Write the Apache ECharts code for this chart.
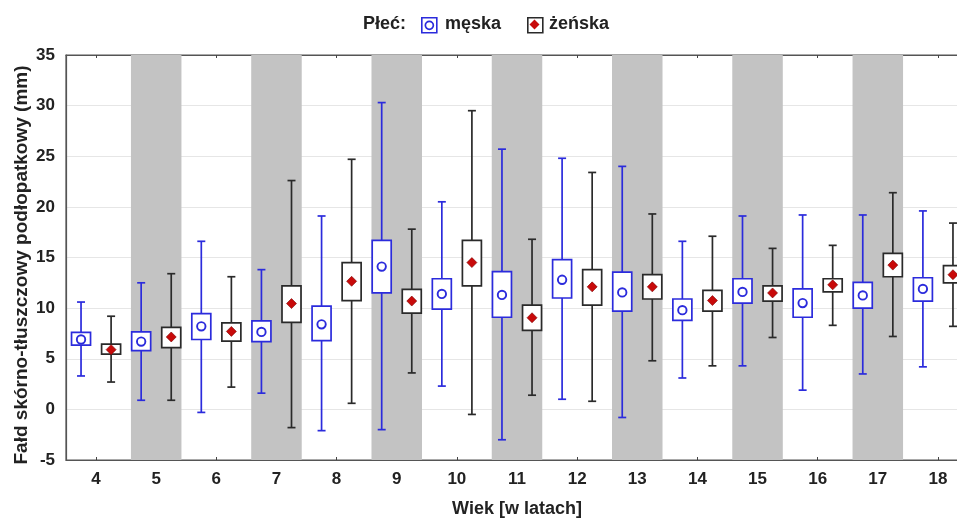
<!DOCTYPE html>
<html>
<head>
<meta charset="utf-8">
<script src="https://cdn.jsdelivr.net/npm/echarts@6/dist/echarts.min.js"></script>
<style>
html,body{margin:0;padding:0;background:#fff;}
#chart{width:957px;height:519px;}
</style>
</head>
<body>
<div id="chart"></div>
<script>
// Age categories (years)
const ages = [4, 5, 6, 7, 8, 9, 10, 11, 12, 13, 14, 15, 16, 17, 18];
const yTicks = [-5, 0, 5, 10, 15, 20, 25, 30, 35];

// Male (męska): whisker low, box low, mean, box high, whisker high
const maleWhiskerLow  = [3.3, 0.9, -0.3, 1.6, -2.1, -2.0, 2.3, -3.0, 1.0, -0.8, 3.1, 4.3, 1.9, 3.5, 4.2];
const maleBoxLow      = [6.35, 5.8, 6.9, 6.7, 6.8, 11.5, 9.9, 9.1, 11.0, 9.7, 8.8, 10.5, 9.1, 10.0, 10.7];
const maleMean        = [6.9, 6.7, 8.2, 7.65, 8.4, 14.1, 11.4, 11.3, 12.8, 11.55, 9.8, 11.6, 10.5, 11.25, 11.9];
const maleBoxHigh     = [7.6, 7.65, 9.45, 8.75, 10.2, 16.7, 12.9, 13.6, 14.8, 13.55, 10.9, 12.9, 11.9, 12.55, 13.0];
const maleWhiskerHigh = [10.6, 12.5, 16.6, 13.8, 19.1, 30.3, 20.5, 25.7, 24.8, 24.0, 16.6, 19.1, 19.2, 19.2, 19.6];

// Female (żeńska)
const femWhiskerLow  = [2.7, 0.9, 2.2, -1.8, 0.6, 3.6, -0.5, 1.4, 0.8, 4.8, 4.3, 7.1, 8.3, 7.2, 8.2];
const femBoxLow      = [5.45, 6.1, 6.75, 8.6, 10.75, 9.5, 12.2, 7.8, 10.3, 10.9, 9.7, 10.7, 11.6, 13.1, 12.5];
const femMean        = [5.9, 7.15, 7.7, 10.45, 12.65, 10.7, 14.5, 9.05, 12.1, 12.1, 10.75, 11.5, 12.3, 14.25, 13.3];
const femBoxHigh     = [6.45, 8.1, 8.55, 12.2, 14.5, 11.85, 16.7, 10.3, 13.8, 13.3, 11.75, 12.2, 12.9, 15.4, 14.2];
const femWhiskerHigh = [9.2, 13.4, 13.1, 22.6, 24.7, 17.8, 29.5, 16.8, 23.4, 19.3, 17.1, 15.9, 16.2, 21.4, 18.4];

const FONT = 'Liberation Sans, Arial, Helvetica, sans-serif';
const BLUE = '#2b2bdc';
const DARK = '#2a2a2a';
const RED = '#c80a0a';
const BAND = '#c3c3c3';

function rows(lo, bl, m, bh, hi) {
  return ages.map((a, i) => [a, lo[i], bl[i], m[i], bh[i], hi[i]]);
}

function makeRender(offset, color, marker) {
  return function (params, api) {
    const x = api.value(0) + offset;
    const px = api.coord([x, 0])[0];
    const Y = v => api.coord([x, v])[1];
    const wlo = Y(api.value(1)), blo = Y(api.value(2)), m = Y(api.value(3)),
          bhi = Y(api.value(4)), whi = Y(api.value(5));
    const halfW = 9.5, capW = 4;
    const lineStyle = { stroke: color, lineWidth: 1.7, fill: null };
    const children = [
      { type: 'line', shape: { x1: px, y1: whi, x2: px, y2: wlo }, style: lineStyle },
      { type: 'line', shape: { x1: px - capW, y1: whi, x2: px + capW, y2: whi }, style: lineStyle },
      { type: 'line', shape: { x1: px - capW, y1: wlo, x2: px + capW, y2: wlo }, style: lineStyle },
      { type: 'rect', shape: { x: px - halfW, y: bhi, width: halfW * 2, height: blo - bhi },
        style: { stroke: color, lineWidth: 1.7, fill: '#fff' } }
    ];
    if (marker === 'circle') {
      children.push({ type: 'circle', shape: { cx: px, cy: m, r: 4.2 },
        style: { stroke: color, lineWidth: 1.9, fill: '#fff' } });
    } else {
      const r = 5;
      children.push({ type: 'polygon', shape: { points: [[px, m - r], [px + r, m], [px, m + r], [px - r, m]] },
        style: { fill: RED, stroke: '#7a0000', lineWidth: 0.6 } });
    }
    return { type: 'group', children: children };
  };
}

const bands = ages.filter(a => a % 2 === 1).map(a => [{ xAxis: a - 0.42 }, { xAxis: a + 0.42 }]);

const chart = echarts.init(document.getElementById('chart'));
chart.setOption({
  animation: false,
  backgroundColor: '#fff',
  grid: { left: 66, right: -11, top: 55, bottom: 59, containLabel: false, outerBoundsMode: 'none',
          show: true, borderColor: '#555', borderWidth: 1.2, backgroundColor: 'transparent' },
  xAxis: [{
    type: 'value', min: 3.5, max: 18.5, position: 'bottom',
    name: 'Wiek [w latach]', nameLocation: 'middle', nameGap: 40,
    nameTextStyle: { fontFamily: FONT, fontWeight: 'bold', fontSize: 18, color: '#222' },
    axisLine: { show: true, onZero: false, lineStyle: { color: '#555', width: 1.2 } },
    axisTick: { show: true, inside: true, length: 3, customValues: ages, lineStyle: { color: '#444' } },
    axisLabel: { customValues: ages, margin: 11, fontFamily: FONT, fontWeight: 'bold', fontSize: 17, color: '#222' },
    splitLine: { show: false }
  }, {
    type: 'value', min: 3.5, max: 18.5, position: 'top',
    axisLine: { show: true, onZero: false, lineStyle: { color: '#555', width: 1.2 } },
    axisTick: { show: true, inside: true, length: 3, customValues: ages, lineStyle: { color: '#444' } },
    axisLabel: { show: false },
    splitLine: { show: false }
  }],
  yAxis: {
    type: 'value', min: -5, max: 35, interval: 5,
    name: 'Fałd skórno-tłuszczowy podłopatkowy (mm)', nameLocation: 'middle', nameGap: 35, nameRotate: 90,
    nameMoveOverlap: false,
    nameTextStyle: { fontFamily: FONT, fontWeight: 'bold', fontSize: 19, color: '#222', padding: [0, 15, 0, 0] },
    axisLine: { show: true, lineStyle: { color: '#555', width: 1.2 } },
    axisTick: { show: false },
    axisLabel: { margin: 11, fontFamily: FONT, fontWeight: 'bold', fontSize: 17, color: '#222' },
    splitLine: { show: true, lineStyle: { color: '#e6e6e6', width: 1 } }
  },
  graphic: [
    { type: 'text', left: 363, top: 15, style: { text: 'Płeć:', font: 'bold 18px ' + FONT, fill: '#222' } },
    { type: 'rect', left: 421, top: 17, shape: { width: 15, height: 15 }, style: { stroke: BLUE, lineWidth: 1.6, fill: '#fff' } },
    { type: 'circle', left: 424.5, top: 20.5, shape: { r: 4 }, style: { stroke: BLUE, lineWidth: 1.7, fill: '#fff' } },
    { type: 'text', left: 445, top: 15, style: { text: 'męska', font: 'bold 18px ' + FONT, fill: '#222' } },
    { type: 'rect', left: 527, top: 17, shape: { width: 15, height: 15 }, style: { stroke: DARK, lineWidth: 1.6, fill: '#fff' } },
    { type: 'polygon', left: 529.5, top: 19.5, shape: { points: [[5, 0], [10, 5], [5, 10], [0, 5]] }, style: { fill: RED } },
    { type: 'text', left: 549, top: 15, style: { text: 'żeńska', font: 'bold 18px ' + FONT, fill: '#222' } }
  ],
  series: [{
    name: 'męska', type: 'custom', xAxisIndex: 0,
    renderItem: makeRender(-0.25, BLUE, 'circle'),
    encode: { x: 0, y: [1, 2, 3, 4, 5] },
    data: rows(maleWhiskerLow, maleBoxLow, maleMean, maleBoxHigh, maleWhiskerHigh),
    markArea: { silent: true, itemStyle: { color: BAND }, data: bands },
    z: 3
  }, {
    name: 'żeńska', type: 'custom', xAxisIndex: 0,
    renderItem: makeRender(0.25, DARK, 'diamond'),
    encode: { x: 0, y: [1, 2, 3, 4, 5] },
    data: rows(femWhiskerLow, femBoxLow, femMean, femBoxHigh, femWhiskerHigh),
    z: 3
  }]
});
</script>
</body>
</html>
